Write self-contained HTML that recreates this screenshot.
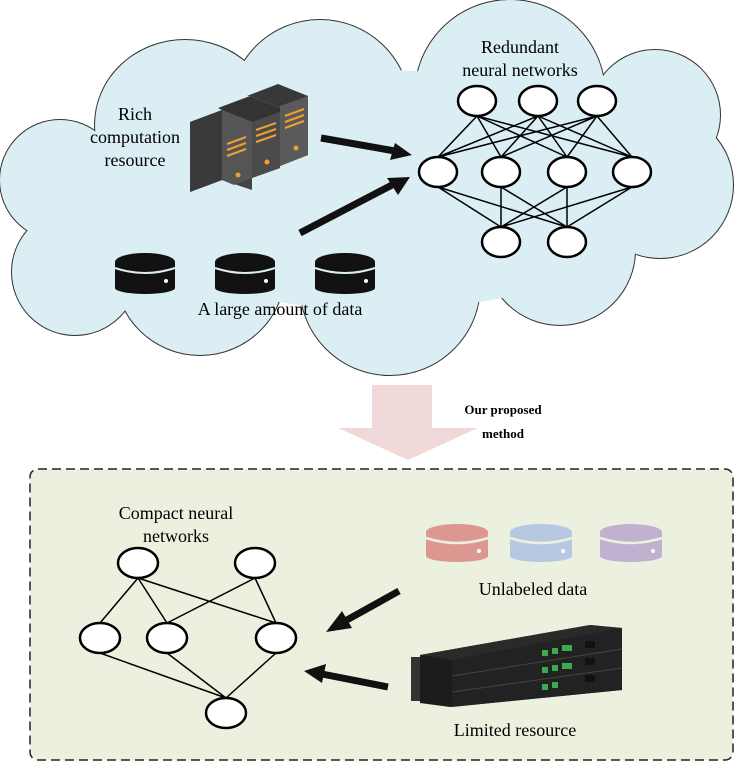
<!DOCTYPE html>
<html><head><meta charset="utf-8"><style>
html,body{margin:0;padding:0;background:#fff}
svg{display:block}
text{font-family:"Liberation Serif",serif;fill:#000}
</style></head><body>
<svg width="736" height="763" viewBox="0 0 736 763" xmlns="http://www.w3.org/2000/svg">
<defs>
<g id="lobes">
<circle cx="60" cy="180" r="60"/>
<ellipse cx="185" cy="125" rx="90" ry="85"/>
<ellipse cx="320" cy="110" rx="90" ry="90"/>
<circle cx="510" cy="95" r="95"/>
<circle cx="655" cy="115" r="65"/>
<circle cx="660" cy="185" r="73"/>
<circle cx="560" cy="250" r="75"/>
<circle cx="390" cy="285" r="90"/>
<circle cx="200" cy="270" r="85"/>
<circle cx="75" cy="272" r="63"/>
</g>
</defs>
<!-- cloud -->
<g fill="#dbeef3" stroke="#333" stroke-width="2"><use href="#lobes"/></g>
<g fill="#dbeef3" stroke="none"><use href="#lobes"/><ellipse cx="380" cy="190" rx="280" ry="120"/><ellipse cx="200" cy="210" rx="140" ry="100"/><ellipse cx="420" cy="230" rx="130" ry="80"/></g>

<text x="520" y="53" font-size="18" text-anchor="middle">Redundant</text>
<text x="520" y="76" font-size="18" text-anchor="middle">neural networks</text>
<text x="135" y="120" font-size="18" text-anchor="middle">Rich</text>
<text x="135" y="143" font-size="18" text-anchor="middle">computation</text>
<text x="135" y="166" font-size="18" text-anchor="middle">resource</text>
<text x="280" y="315" font-size="18" text-anchor="middle">A large amount of data</text>

<!-- server -->
<g>
<polygon points="190,122 222,110 252,122 252,190 222,180 190,192" fill="#444"/>
<polygon points="190,122 222,110 222,180 190,192" fill="#3a3a3a"/>
<polygon points="222,110 252,122 252,178 234,185 222,180" fill="#555"/>
<polygon points="218,108 250,96 280,108 280,168 252,178 252,122 222,110" fill="#333"/>
<polygon points="252,122 280,112 280,168 252,178" fill="#4b4b4b"/>
<polygon points="247,96 278,84 308,96 308,155 280,166 280,108 250,96" fill="#383838"/>
<polygon points="280,106 308,96 308,155 280,166" fill="#5a5a5a"/>
<g stroke="#f0a030" stroke-width="2"><line x1="227" y1="144" x2="246" y2="137"/><line x1="227" y1="150" x2="246" y2="143"/><line x1="227" y1="156" x2="246" y2="149"/>
<line x1="256" y1="130" x2="276" y2="123"/><line x1="256" y1="136" x2="276" y2="129"/><line x1="256" y1="142" x2="276" y2="135"/>
<line x1="285" y1="116" x2="304" y2="109"/><line x1="285" y1="122" x2="304" y2="115"/><line x1="285" y1="128" x2="304" y2="121"/></g>
<g fill="#f0a030"><circle cx="238" cy="175" r="2.5"/><circle cx="267" cy="162" r="2.5"/><circle cx="296" cy="148" r="2.5"/></g>
</g>

<!-- black arrows -->
<g stroke="#111" stroke-width="7" fill="#111">
<line x1="321" y1="138" x2="395" y2="151"/>
<line x1="300" y1="233" x2="392" y2="185"/>
</g>
<polygon points="412,155 390,160 395,143" fill="#111"/>
<polygon points="410,177 398,195 387,178" fill="#111"/>

<!-- data cylinders black -->
<g fill="#111">
<g transform="translate(145,0)"><ellipse cx="0" cy="262" rx="30" ry="9"/><rect x="-30" y="262" width="60" height="26"/><ellipse cx="0" cy="288" rx="30" ry="6"/></g>
<g transform="translate(245,0)"><ellipse cx="0" cy="262" rx="30" ry="9"/><rect x="-30" y="262" width="60" height="26"/><ellipse cx="0" cy="288" rx="30" ry="6"/></g>
<g transform="translate(345,0)"><ellipse cx="0" cy="262" rx="30" ry="9"/><rect x="-30" y="262" width="60" height="26"/><ellipse cx="0" cy="288" rx="30" ry="6"/></g>
</g>
<g stroke="#dbeef3" stroke-width="2" fill="none">
<path d="M115,268 Q145,278 175,268"/><path d="M215,268 Q245,278 275,268"/><path d="M315,268 Q345,278 375,268"/>
</g>
<g fill="#fff"><circle cx="166" cy="281" r="2"/><circle cx="266" cy="281" r="2"/><circle cx="366" cy="281" r="2"/></g>

<!-- redundant NN -->
<g stroke="#000" stroke-width="1.5">
<path d="M477,116 L438,157 M477,116 L501,157 M477,116 L567,157 M477,116 L632,157
M538,116 L438,157 M538,116 L501,157 M538,116 L567,157 M538,116 L632,157
M597,116 L438,157 M597,116 L501,157 M597,116 L567,157 M597,116 L632,157
M438,187 L501,227 M438,187 L567,227 M501,187 L501,227 M501,187 L567,227
M567,187 L501,227 M567,187 L567,227 M632,187 L501,227 M632,187 L567,227"/>
</g>
<g fill="#fff" stroke="#000" stroke-width="2.5">
<ellipse cx="477" cy="101" rx="19" ry="15"/><ellipse cx="538" cy="101" rx="19" ry="15"/><ellipse cx="597" cy="101" rx="19" ry="15"/>
<ellipse cx="438" cy="172" rx="19" ry="15"/><ellipse cx="501" cy="172" rx="19" ry="15"/><ellipse cx="567" cy="172" rx="19" ry="15"/><ellipse cx="632" cy="172" rx="19" ry="15"/>
<ellipse cx="501" cy="242" rx="19" ry="15"/><ellipse cx="567" cy="242" rx="19" ry="15"/>
</g>

<!-- big pink arrow -->
<polygon points="372,385 432,385 432,428 478,428 408,460 338,428 372,428" fill="#f2d9d9"/>
<text x="503" y="414" font-size="13" font-weight="bold" text-anchor="middle">Our proposed</text>
<text x="503" y="438" font-size="13" font-weight="bold" text-anchor="middle">method</text>

<!-- dashed box -->
<rect x="30" y="469" width="703" height="291" rx="8" fill="#ebf1de" stroke="#222" stroke-width="1.5" stroke-dasharray="9,5"/>

<text x="176" y="519" font-size="18" text-anchor="middle">Compact neural</text>
<text x="176" y="542" font-size="18" text-anchor="middle">networks</text>
<g stroke="#000" stroke-width="1.5">
<path d="M138,578 L100,623 M138,578 L167,623 M138,578 L276,623 M255,578 L167,623 M255,578 L276,623
M100,653 L226,698 M167,653 L226,698 M276,653 L226,698"/>
</g>
<g fill="#fff" stroke="#000" stroke-width="2.5">
<ellipse cx="138" cy="563" rx="20" ry="15"/><ellipse cx="255" cy="563" rx="20" ry="15"/>
<ellipse cx="100" cy="638" rx="20" ry="15"/><ellipse cx="167" cy="638" rx="20" ry="15"/><ellipse cx="276" cy="638" rx="20" ry="15"/>
<ellipse cx="226" cy="713" rx="20" ry="15"/>
</g>

<!-- colored cylinders -->
<g>
<g fill="#dc9890"><ellipse cx="457" cy="532" rx="31" ry="8"/><rect x="426" y="532" width="62" height="24"/><ellipse cx="457" cy="556" rx="31" ry="6"/></g>
<g fill="#b7c9e2"><ellipse cx="541" cy="532" rx="31" ry="8"/><rect x="510" y="532" width="62" height="24"/><ellipse cx="541" cy="556" rx="31" ry="6"/></g>
<g fill="#c0b1d1"><ellipse cx="631" cy="532" rx="31" ry="8"/><rect x="600" y="532" width="62" height="24"/><ellipse cx="631" cy="556" rx="31" ry="6"/></g>
<g stroke="#ebf1de" stroke-width="2.5" fill="none"><path d="M426,538 Q457,548 488,538"/><path d="M510,538 Q541,548 572,538"/><path d="M600,538 Q631,548 662,538"/></g>
<g fill="#fff"><circle cx="479" cy="551" r="2"/><circle cx="563" cy="551" r="2"/><circle cx="653" cy="551" r="2"/></g>
</g>
<text x="533" y="595" font-size="18" text-anchor="middle">Unlabeled data</text>

<!-- arrows bottom -->
<g stroke="#111" stroke-width="7"><line x1="399" y1="591" x2="345" y2="621"/><line x1="388" y1="687" x2="322" y2="674"/></g>
<polygon points="326,632 342,611 352,628" fill="#111"/>
<polygon points="304,671 326,664 322,683" fill="#111"/>

<!-- rack device -->
<g>
<polygon points="420,655 590,625 622,628 622,690 450,707 420,703" fill="#1c1c1c"/>
<polygon points="420,655 590,625 622,628 452,660" fill="#2a2a2a"/>
<polygon points="452,660 622,628 622,690 452,707" fill="#222"/>
<line x1="452" y1="676" x2="622" y2="649" stroke="#444" stroke-width="1"/>
<line x1="452" y1="692" x2="622" y2="668" stroke="#444" stroke-width="1"/>
<rect x="411" y="657" width="9" height="44" fill="#333"/>
<g fill="#3aaa50"><rect x="542" y="650" width="6" height="6"/><rect x="552" y="648" width="6" height="6"/><rect x="562" y="645" width="10" height="6"/><rect x="542" y="667" width="6" height="6"/><rect x="552" y="665" width="6" height="6"/><rect x="562" y="663" width="10" height="6"/><rect x="542" y="684" width="6" height="6"/><rect x="552" y="682" width="6" height="6"/></g>
<g fill="#111"><rect x="585" y="641" width="10" height="7"/><rect x="585" y="658" width="10" height="7"/><rect x="585" y="675" width="10" height="7"/></g>
</g>
<text x="515" y="736" font-size="18" text-anchor="middle">Limited resource</text>
</svg>
</body></html>
